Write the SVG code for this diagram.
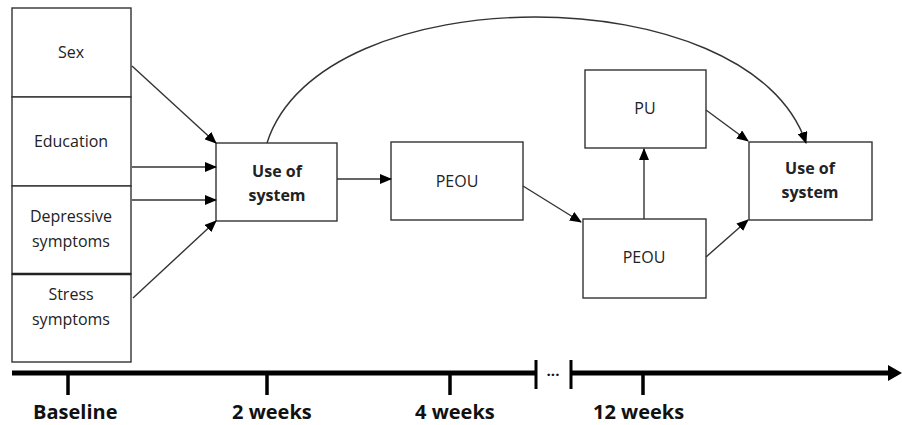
<svg xmlns="http://www.w3.org/2000/svg" width="902" height="425" viewBox="0 0 902 425">
<defs>
<style>
.box{fill:#fff;stroke:#333;stroke-width:1.4}
.t{font-family:"Open Sans","Liberation Sans",sans-serif;font-size:16px;fill:#222;text-anchor:middle}
.b{font-weight:bold}
.c{fill:none;stroke:#333;stroke-width:1.4}
.tl{font-family:"Open Sans","Liberation Sans",sans-serif;font-size:20px;font-weight:bold;fill:#111}
.ax{stroke:#000;fill:none}
</style>
<marker id="ah" markerWidth="12" markerHeight="10" refX="11" refY="5" orient="auto" markerUnits="userSpaceOnUse">
<path d="M0,0 L12,5 L0,10 Z" fill="#000"/>
</marker>
</defs>
<rect width="902" height="425" fill="#fff"/>

<g id="sex"><rect class="box" x="12" y="8" width="119" height="89"/><text class="t" x="71" y="58">Sex</text></g>
<g id="education"><rect class="box" x="12" y="97" width="119" height="89"/><text class="t" x="71" y="147">Education</text></g>
<g id="depressive"><rect class="box" x="12" y="186" width="119" height="88"/><text class="t" x="71" y="222">Depressive</text><text class="t" x="71" y="247">symptoms</text></g>
<g id="stress"><rect class="box" x="12" y="274" width="119" height="88"/><line x1="12" y1="274" x2="131" y2="274" stroke="#222" stroke-width="2.5"/><text class="t" x="71" y="300">Stress</text><text class="t" x="71" y="325">symptoms</text></g>

<g id="use1"><rect class="box" x="216" y="143" width="121" height="78"/><text class="t b" x="277" y="177">Use of</text><text class="t b" x="277" y="201">system</text></g>
<g id="peou1"><rect class="box" x="391" y="142" width="132" height="78"/><text class="t" x="457" y="187">PEOU</text></g>
<g id="pu"><rect class="box" x="585" y="70" width="121" height="78"/><text class="t" x="645" y="114">PU</text></g>
<g id="peou2"><rect class="box" x="583" y="219" width="123" height="79"/><text class="t" x="644" y="263">PEOU</text></g>
<g id="use2"><rect class="box" x="749" y="142" width="123" height="78"/><text class="t b" x="810" y="174">Use of</text><text class="t b" x="810" y="198">system</text></g>

<g id="connectors">
<line class="c" x1="132" y1="66" x2="216" y2="143" marker-end="url(#ah)"/>
<line class="c" x1="132" y1="167" x2="216" y2="167" marker-end="url(#ah)"/>
<line class="c" x1="132" y1="200" x2="216" y2="200" marker-end="url(#ah)"/>
<line class="c" x1="133" y1="298" x2="216" y2="221" marker-end="url(#ah)"/>
<line class="c" x1="337" y1="179" x2="391" y2="179" marker-end="url(#ah)"/>
<line class="c" x1="523" y1="186" x2="581" y2="222" marker-end="url(#ah)"/>
<line class="c" x1="644" y1="219" x2="644" y2="149" marker-end="url(#ah)"/>
<line class="c" x1="706" y1="110" x2="748" y2="141" marker-end="url(#ah)"/>
<line class="c" x1="706" y1="257" x2="748" y2="220" marker-end="url(#ah)"/>
<path class="c" d="M267,143 C320,-25 750,-25 806,143" marker-end="url(#ah)"/>
</g>

<g id="timeline">
<line class="ax" x1="12" y1="373" x2="536" y2="373" stroke-width="5"/>
<line class="ax" x1="571" y1="373" x2="892" y2="373" stroke-width="5"/>
<path d="M888,365 L902,373 L888,381 Z" fill="#000"/>
<line class="ax" x1="536" y1="360" x2="536" y2="389" stroke-width="3"/>
<line class="ax" x1="571" y1="360" x2="571" y2="389" stroke-width="3"/>
<text x="553" y="376" font-family="Open Sans, sans-serif" font-size="15" font-weight="bold" text-anchor="middle" fill="#111">...</text>
<line class="ax" x1="68" y1="373" x2="68" y2="395" stroke-width="3.5"/>
<line class="ax" x1="267" y1="373" x2="267" y2="395" stroke-width="3.5"/>
<line class="ax" x1="450" y1="373" x2="450" y2="395" stroke-width="3.5"/>
<line class="ax" x1="643" y1="373" x2="643" y2="395" stroke-width="3.5"/>
<text class="tl" x="33" y="419">Baseline</text>
<text class="tl" x="232" y="419">2 weeks</text>
<text class="tl" x="415" y="419">4 weeks</text>
<text class="tl" x="593" y="419">12 weeks</text>
</g>
</svg>
